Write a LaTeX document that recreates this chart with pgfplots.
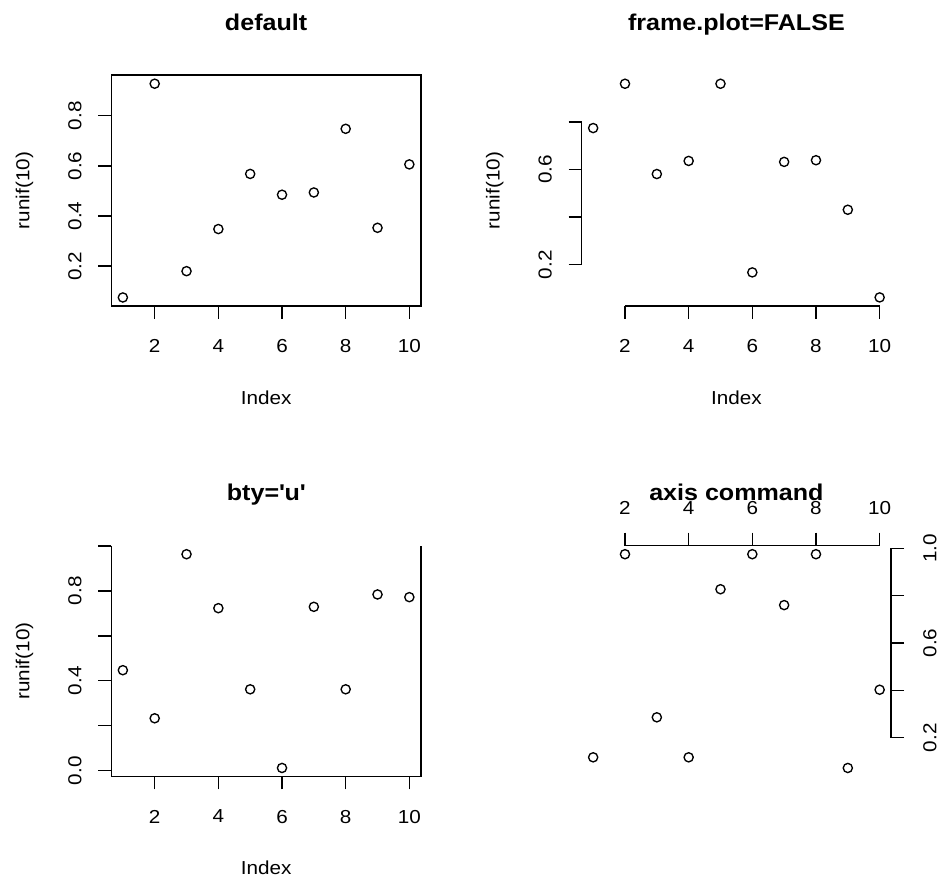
\documentclass[border=0pt]{standalone}
\usepackage{fontspec}
\setmainfont{Liberation Sans}[FakeStretch=1.1]
\usepackage{pgfplots}
\pgfplotsset{compat=1.18}
\newcommand{\lf}{\fontsize{18.8}{22}\selectfont}
\newcommand{\tf}{\fontsize{22.8}{26}\selectfont\bfseries}

\pgfplotstableread{
x y
1 0.075
2 0.928
3 0.180
4 0.348
5 0.568
6 0.485
7 0.494
8 0.748
9 0.353
10 0.606
}\dataA
\pgfplotstableread{
x y
1 0.774
2 0.960
3 0.581
4 0.636
5 0.960
6 0.168
7 0.632
8 0.639
9 0.431
10 0.063
}\dataB
\pgfplotstableread{
x y
1 0.447
2 0.233
3 0.963
4 0.723
5 0.362
6 0.012
7 0.729
8 0.362
9 0.784
10 0.772
}\dataC
\pgfplotstableread{
x y
1 0.117
2 0.975
3 0.286
4 0.117
5 0.827
6 0.975
7 0.760
8 0.975
9 0.072
10 0.4025
}\dataD

\pgfplotsset{
 rbase/.style={
  scale only axis, width=309.4pt, height=230.8pt,
  xmin=0.64, xmax=10.36,
  clip=false,
  axis line style={line width=1.4pt},
  tick style={black, line width=1.4pt},
  major tick style={black, line width=1.4pt},
  major tick length=13pt,
  xtick={2,4,6,8,10}, xticklabels={2,4,6,8,10},
  tick label style={font=\lf, inner sep=0pt},
  label style={font=\lf, inner sep=0pt},
  title style={font=\tf, inner sep=0pt, at={([yshift=39pt]axis description cs:0.5,1)}, anchor=base},
  xlabel style={at={([yshift=-98.5pt]axis description cs:0.5,0)}, anchor=base},
  ylabel style={at={([xshift=-82pt]axis description cs:0,0.5)}, anchor=base},
 },
 rpts/.style={only marks, mark=o, mark size=4.6pt, black, mark options={line width=1.35pt, black}},
 lefty/.style={ytick pos=left, yticklabel style={xshift=-16.7pt, rotate=90, anchor=south}},
 bottomx/.style={xtick pos=left, xticklabel style={yshift=-20.3pt, anchor=north}},
}

\begin{document}
\begin{tikzpicture}
\path[use as bounding box] (0,0) rectangle (940pt,880pt);

% default
\begin{axis}[rbase, at={(111.4pt,574pt)}, anchor=south west,
  ymin=0.041, ymax=0.962,
  ytick={0.2,0.4,0.6,0.8}, yticklabels={0.2,0.4,0.6,0.8},
  bottomx, lefty, tick align=outside,
  title={default}, xlabel={Index}, ylabel={runif(10)}]
\addplot[rpts] table[x=x,y=y] {\dataA};
\end{axis}

% frame.plot=FALSE
\begin{axis}[rbase, at={(581.7pt,574pt)}, anchor=south west,
  ymin=0.027, ymax=0.996,
  axis x line*=bottom, axis y line*=left, axis line style={draw=none},
  ytick={0.2,0.4,0.6,0.8}, yticklabels={0.2,,0.6,},
  bottomx, lefty, tick align=outside,
  title={frame.plot=FALSE}, xlabel={Index}, ylabel={runif(10)}]
\addplot[rpts] table[x=x,y=y] {\dataB};
\draw[line width=1.4pt] (axis cs:2,0.027) -- (axis cs:10,0.027);
\draw[line width=1.4pt] (axis cs:0.64,0.2) -- (axis cs:0.64,0.8);
\end{axis}

% bty='u'
\begin{axis}[rbase, at={(111.4pt,103.5pt)}, anchor=south west,
  ymin=-0.026, ymax=1.001,
  axis x line*=bottom, axis y line*=left, axis line style={draw=none},
  ytick={0,0.2,0.4,0.6,0.8,1.0}, yticklabels={0.0,,0.4,,0.8,},
  bottomx, lefty, tick align=outside,
  title={bty=\textquotesingle u\textquotesingle}, xlabel={Index}, ylabel={runif(10)}]
\addplot[rpts] table[x=x,y=y] {\dataC};
\draw[line width=1.4pt] (rel axis cs:0,1) -- (rel axis cs:0,0) -- (rel axis cs:1,0) -- (rel axis cs:1,1);
\end{axis}

% axis command
\begin{axis}[rbase, at={(581.7pt,103.5pt)}, anchor=south west,
  ymin=0.036, ymax=1.011,
  axis x line*=top, axis y line*=right, axis line style={draw=none},
  ytick={0.2,0.4,0.6,0.8,1.0}, yticklabels={0.2,,0.6,,1.0},
  xtick pos=right, ytick pos=right,
  xticklabel style={yshift=18.3pt, anchor=south},
  yticklabel style={xshift=19pt, rotate=90, anchor=north},
  tick align=outside,
  title={axis command}]
\addplot[rpts] table[x=x,y=y] {\dataD};
\draw[line width=1.4pt] (axis cs:2,1.011) -- (axis cs:10,1.011);
\draw[line width=1.4pt] (axis cs:10.36,0.2) -- (axis cs:10.36,1.0);
\end{axis}
\end{tikzpicture}
\end{document}
